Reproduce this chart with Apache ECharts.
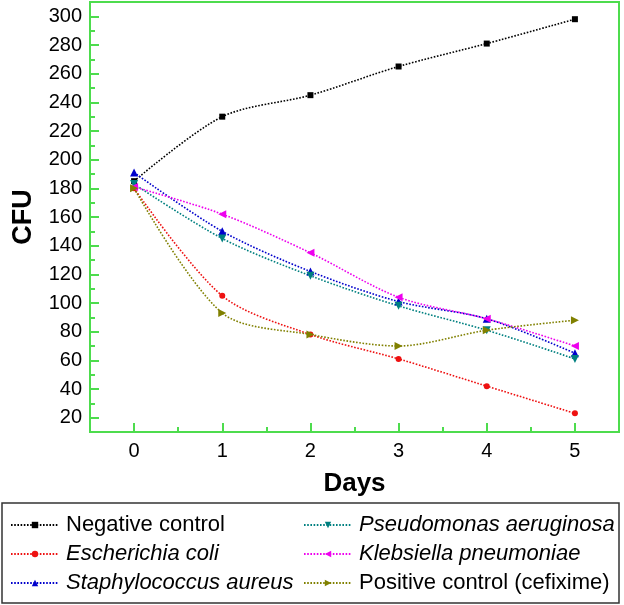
<!DOCTYPE html>
<html><head><meta charset="utf-8">
<script src="https://cdn.jsdelivr.net/npm/echarts@6/dist/echarts.min.js"></script>
<style>html,body{margin:0;padding:0;background:#fff}#c{width:624px;height:605px}</style>
</head><body><div id="c"></div>
<script>
const days = [0, 1, 2, 3, 4, 5];
const negativeControl = [185, 230, 245, 265, 281, 298];
const eColi = [180, 105, 78, 61, 42, 23];
const sAureus = [191, 150, 122, 101, 89, 65];
const pAeruginosa = [183, 145, 119, 98, 81, 61];
const kPneumoniae = [181, 162, 135, 104, 89, 70];
const positiveControl = [180, 93, 78, 70, 81, 88];
const yMajor = [20,40,60,80,100,120,140,160,180,200,220,240,260,280,300];
const yMinor = [30,50,70,90,110,130,150,170,190,210,230,250,270,290];
const xMajor = [0,1,2,3,4,5];
const xMinor = [0.5,1.5,2.5,3.5,4.5];

const GREEN = '#4ddc4d';
const FONT = 'Liberation Sans, Arial, sans-serif';
function pts(arr){ return days.map((d,i)=>[d, arr[i]]); }
function mk(name, data, color, symbol, size, rot){
  return {name, type:'line', data: pts(data), smooth:0.3, symbol, symbolSize:size, symbolRotate:rot||0,
    lineStyle:{color, width:1.6, type:[1.6,1.6]}, itemStyle:{color}, showSymbol:true, z:3};
}
const chart = echarts.init(document.getElementById('c'));
const legText = {fontSize:22, color:'#000', fontFamily:FONT, padding:[0,0,0,2],
  rich:{i:{fontStyle:'italic', fontSize:22, fontFamily:FONT, color:'#000'}}};
chart.setOption({
  animation:false,
  grid:{left:90, right:5, top:2, bottom:173, show:true, borderColor:GREEN, borderWidth:2},
  xAxis:[{type:'value', min:-0.5, max:5.5, interval:0.5,
    axisLine:{onZero:false, lineStyle:{color:GREEN, width:2}},
    axisTick:{inside:true, length:9, customValues:xMajor, lineStyle:{color:GREEN, width:2}},
    axisLabel:{customValues:xMajor, color:'#000', fontSize:20, fontFamily:FONT, margin:9},
    splitLine:{show:false},
    name:'Days', nameLocation:'middle', nameGap:39,
    nameTextStyle:{fontSize:26, fontWeight:'bold', color:'#000', fontFamily:FONT}},
   {type:'value', min:-0.5, max:5.5, interval:0.5, position:'bottom',
    axisLine:{show:false, onZero:false},
    axisTick:{inside:true, length:5, customValues:xMinor, lineStyle:{color:GREEN, width:2}},
    axisLabel:{show:false}, splitLine:{show:false}}],
  yAxis:[{type:'value', min:10, max:310, interval:10,
    axisLine:{show:true, onZero:false, lineStyle:{color:GREEN, width:2}},
    axisTick:{show:true, inside:true, length:9, customValues:yMajor, lineStyle:{color:GREEN, width:2}},
    axisLabel:{customValues:yMajor, color:'#000', fontSize:20, fontFamily:FONT, margin:8},
    splitLine:{show:false},
    name:'CFU', nameLocation:'middle', nameGap:53,
    nameTextStyle:{fontSize:27, fontWeight:'bold', color:'#000', fontFamily:FONT}},
   {type:'value', min:10, max:310, interval:10, position:'left',
    axisLine:{show:false, onZero:false},
    axisTick:{show:true, inside:true, length:5, customValues:yMinor, lineStyle:{color:GREEN, width:2}},
    axisLabel:{show:false}, splitLine:{show:false}}],
  legend:[
    {orient:'vertical', left:5, top:509, itemWidth:48, itemHeight:8, itemGap:7,
     data:['Negative control','Escherichia coli','Staphylococcus aureus'],
     formatter:n=> n==='Negative control'? n : '{i|'+n+'}',
     textStyle:legText},
    {orient:'vertical', left:298, top:509, itemWidth:48, itemHeight:8, itemGap:7,
     data:['Pseudomonas aeruginosa','Klebsiella pneumoniae','Positive control (cefixime)'],
     formatter:n=> n==='Positive control (cefixime)'? n : '{i|'+n+'}',
     textStyle:legText}
  ],
  graphic:[{type:'rect', shape:{x:2, y:503, width:617, height:100}, style:{fill:'none', stroke:'#333', lineWidth:1.5}}],
  series:[
    mk('Negative control', negativeControl, '#000000', 'rect', 6),
    mk('Escherichia coli', eColi, '#ee1111', 'circle', 6),
    mk('Staphylococcus aureus', sAureus, '#0000cc', 'triangle', 8),
    mk('Pseudomonas aeruginosa', pAeruginosa, '#008080', 'triangle', 8, 180),
    mk('Klebsiella pneumoniae', kPneumoniae, '#ee00ee', 'triangle', 8, 90),
    mk('Positive control (cefixime)', positiveControl, '#808000', 'triangle', 8, -90)
  ]
});
</script></body></html>
